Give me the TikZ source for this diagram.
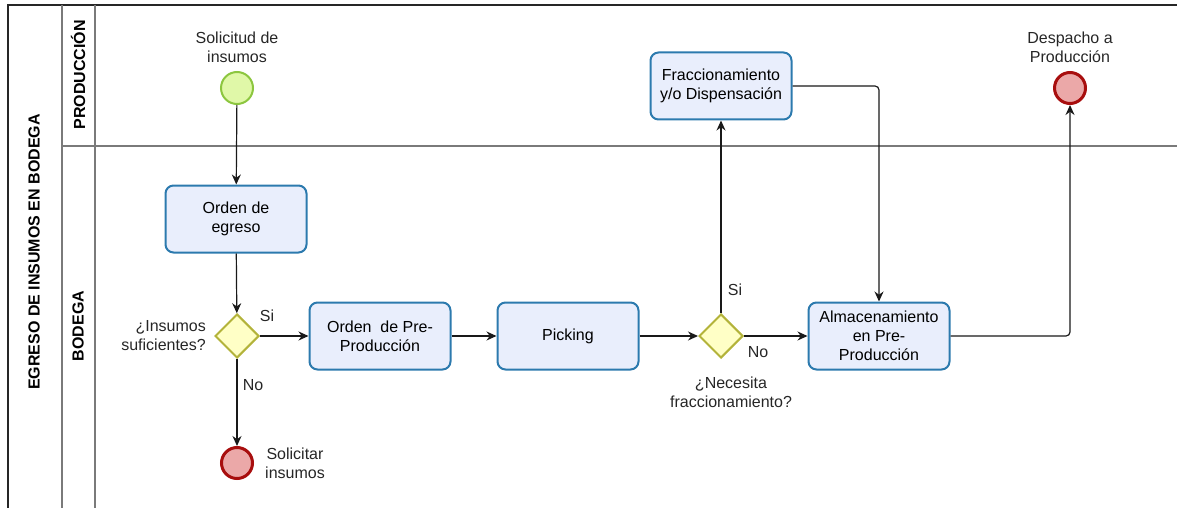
\documentclass[tikz,border=0pt]{standalone}
\usepackage{fontspec}
\setmainfont{Liberation Sans}
\usetikzlibrary{arrows.meta,shapes.geometric,positioning}

\definecolor{taskfill}{HTML}{E9EEFC}
\definecolor{taskline}{HTML}{2C7AAE}
\definecolor{gwfill}{HTML}{FFFFC6}
\definecolor{gwline}{HTML}{B3B33A}
\definecolor{startfill}{HTML}{E0F8A8}
\definecolor{startline}{HTML}{8CC63F}
\definecolor{endfill}{HTML}{EBA8A8}
\definecolor{endline}{HTML}{A80E0E}
\definecolor{laneline}{HTML}{7A7A7A}

\begin{document}
\begin{tikzpicture}[x=1pt,y=-1pt,
    font=\fontsize{16}{19}\selectfont,
    task/.style={draw=taskline,fill=taskfill,line width=2pt,rounded corners=8pt,
        minimum width=141pt,minimum height=67pt,align=center,inner sep=2pt},
    gateway/.style={draw=gwline,fill=gwfill,line width=2pt,shape=diamond,
        minimum width=44pt,minimum height=44pt,inner sep=0pt},
    startev/.style={draw=startline,fill=startfill,line width=2pt,circle,
        minimum size=32pt,inner sep=0pt},
    endev/.style={draw=endline,fill=endfill,line width=3pt,circle,
        minimum size=31pt,inner sep=0pt},
    lbl/.style={align=center,inner sep=1pt,text=black!85},
    flow/.style={draw=black!90,line width=1.2pt,rounded corners=4pt,
        -{Stealth[length=10pt,width=9pt]}}]
    \useasboundingbox (0,0) rectangle (1177,508);

    % pool y carriles
	\draw[line width=1.4pt,black!85] (8,508) -- (8,5) -- (1177,5);
	\draw[laneline,line width=1.2pt] (62,5) -- (62,508);
	\draw[laneline,line width=1.2pt] (95,5) -- (95,508);
	\draw[laneline,line width=2pt] (62,146) -- (1177,146);

	\node[font=\fontsize{16}{19}\selectfont\bfseries,rotate=90] (pool) at (34,252) {EGRESO DE INSUMOS EN BODEGA};
	\node[font=\fontsize{16}{19}\selectfont\bfseries,rotate=90] (lprod) at (78,75) {PRODUCCIÓN};
	\node[font=\fontsize{16}{19}\selectfont\bfseries,rotate=90] (lbod) at (78,326) {BODEGA};

	% eventos
	\node[startev] (inicio) at (237,88) {};
	\node[lbl] (tinicio) at (237,47) {Solicitud de\\insumos};

	\node[endev] (solicitar) at (237,463) {};
	\node[lbl,right=10pt of solicitar] (tsolicitar) {Solicitar\\insumos};

	\node[endev] (despacho) at (1070,88) {};
	\node[lbl] (tdespacho) at (1070,47) {Despacho a\\Producción};

	% tareas
	\node[task] (egreso) at (236,219) {Orden de\\egreso};
	\node[task] (preprod) at (380,336) {Orden\ \ de Pre-\\Producción};
	\node[task] (picking) at (568,336) {Picking};
	\node[task] (fracc) at (721,86) {Fraccionamiento\\y/o Dispensación};
	\node[task] (almac) at (879,336) {Almacenamiento\\en Pre-\\Producción};

	% compuertas
	\node[gateway] (gw1) at (237,336) {};
	\node[lbl,align=right,left=7pt of gw1] (tgw1) {¿Insumos\\suficientes?};
	\node[gateway] (gw2) at (721,336) {};
	\node[lbl] (tgw2) at (731,392) {¿Necesita\\fraccionamiento?};

	\node[lbl] (si1) at (267,316) {Si};
	\node[lbl] (no1) at (253,385) {No};
	\node[lbl] (si2) at (735,290) {Si};
	\node[lbl] (no2) at (758,352) {No};

	% flujos
	\draw[flow] (inicio) -- (egreso);
	\draw[flow] (egreso) -- (gw1);
	\draw[flow] (gw1) -- (preprod);
	\draw[flow] (gw1) -- (solicitar);
	\draw[flow] (preprod) -- (picking);
	\draw[flow] (picking) -- (gw2);
	\draw[flow] (gw2) -- (fracc);
	\draw[flow] (gw2) -- (almac);
	\draw[flow] (fracc.east) -| (almac.north);
	\draw[flow] (almac.east) -| (despacho.south);

\end{tikzpicture}
\end{document}
